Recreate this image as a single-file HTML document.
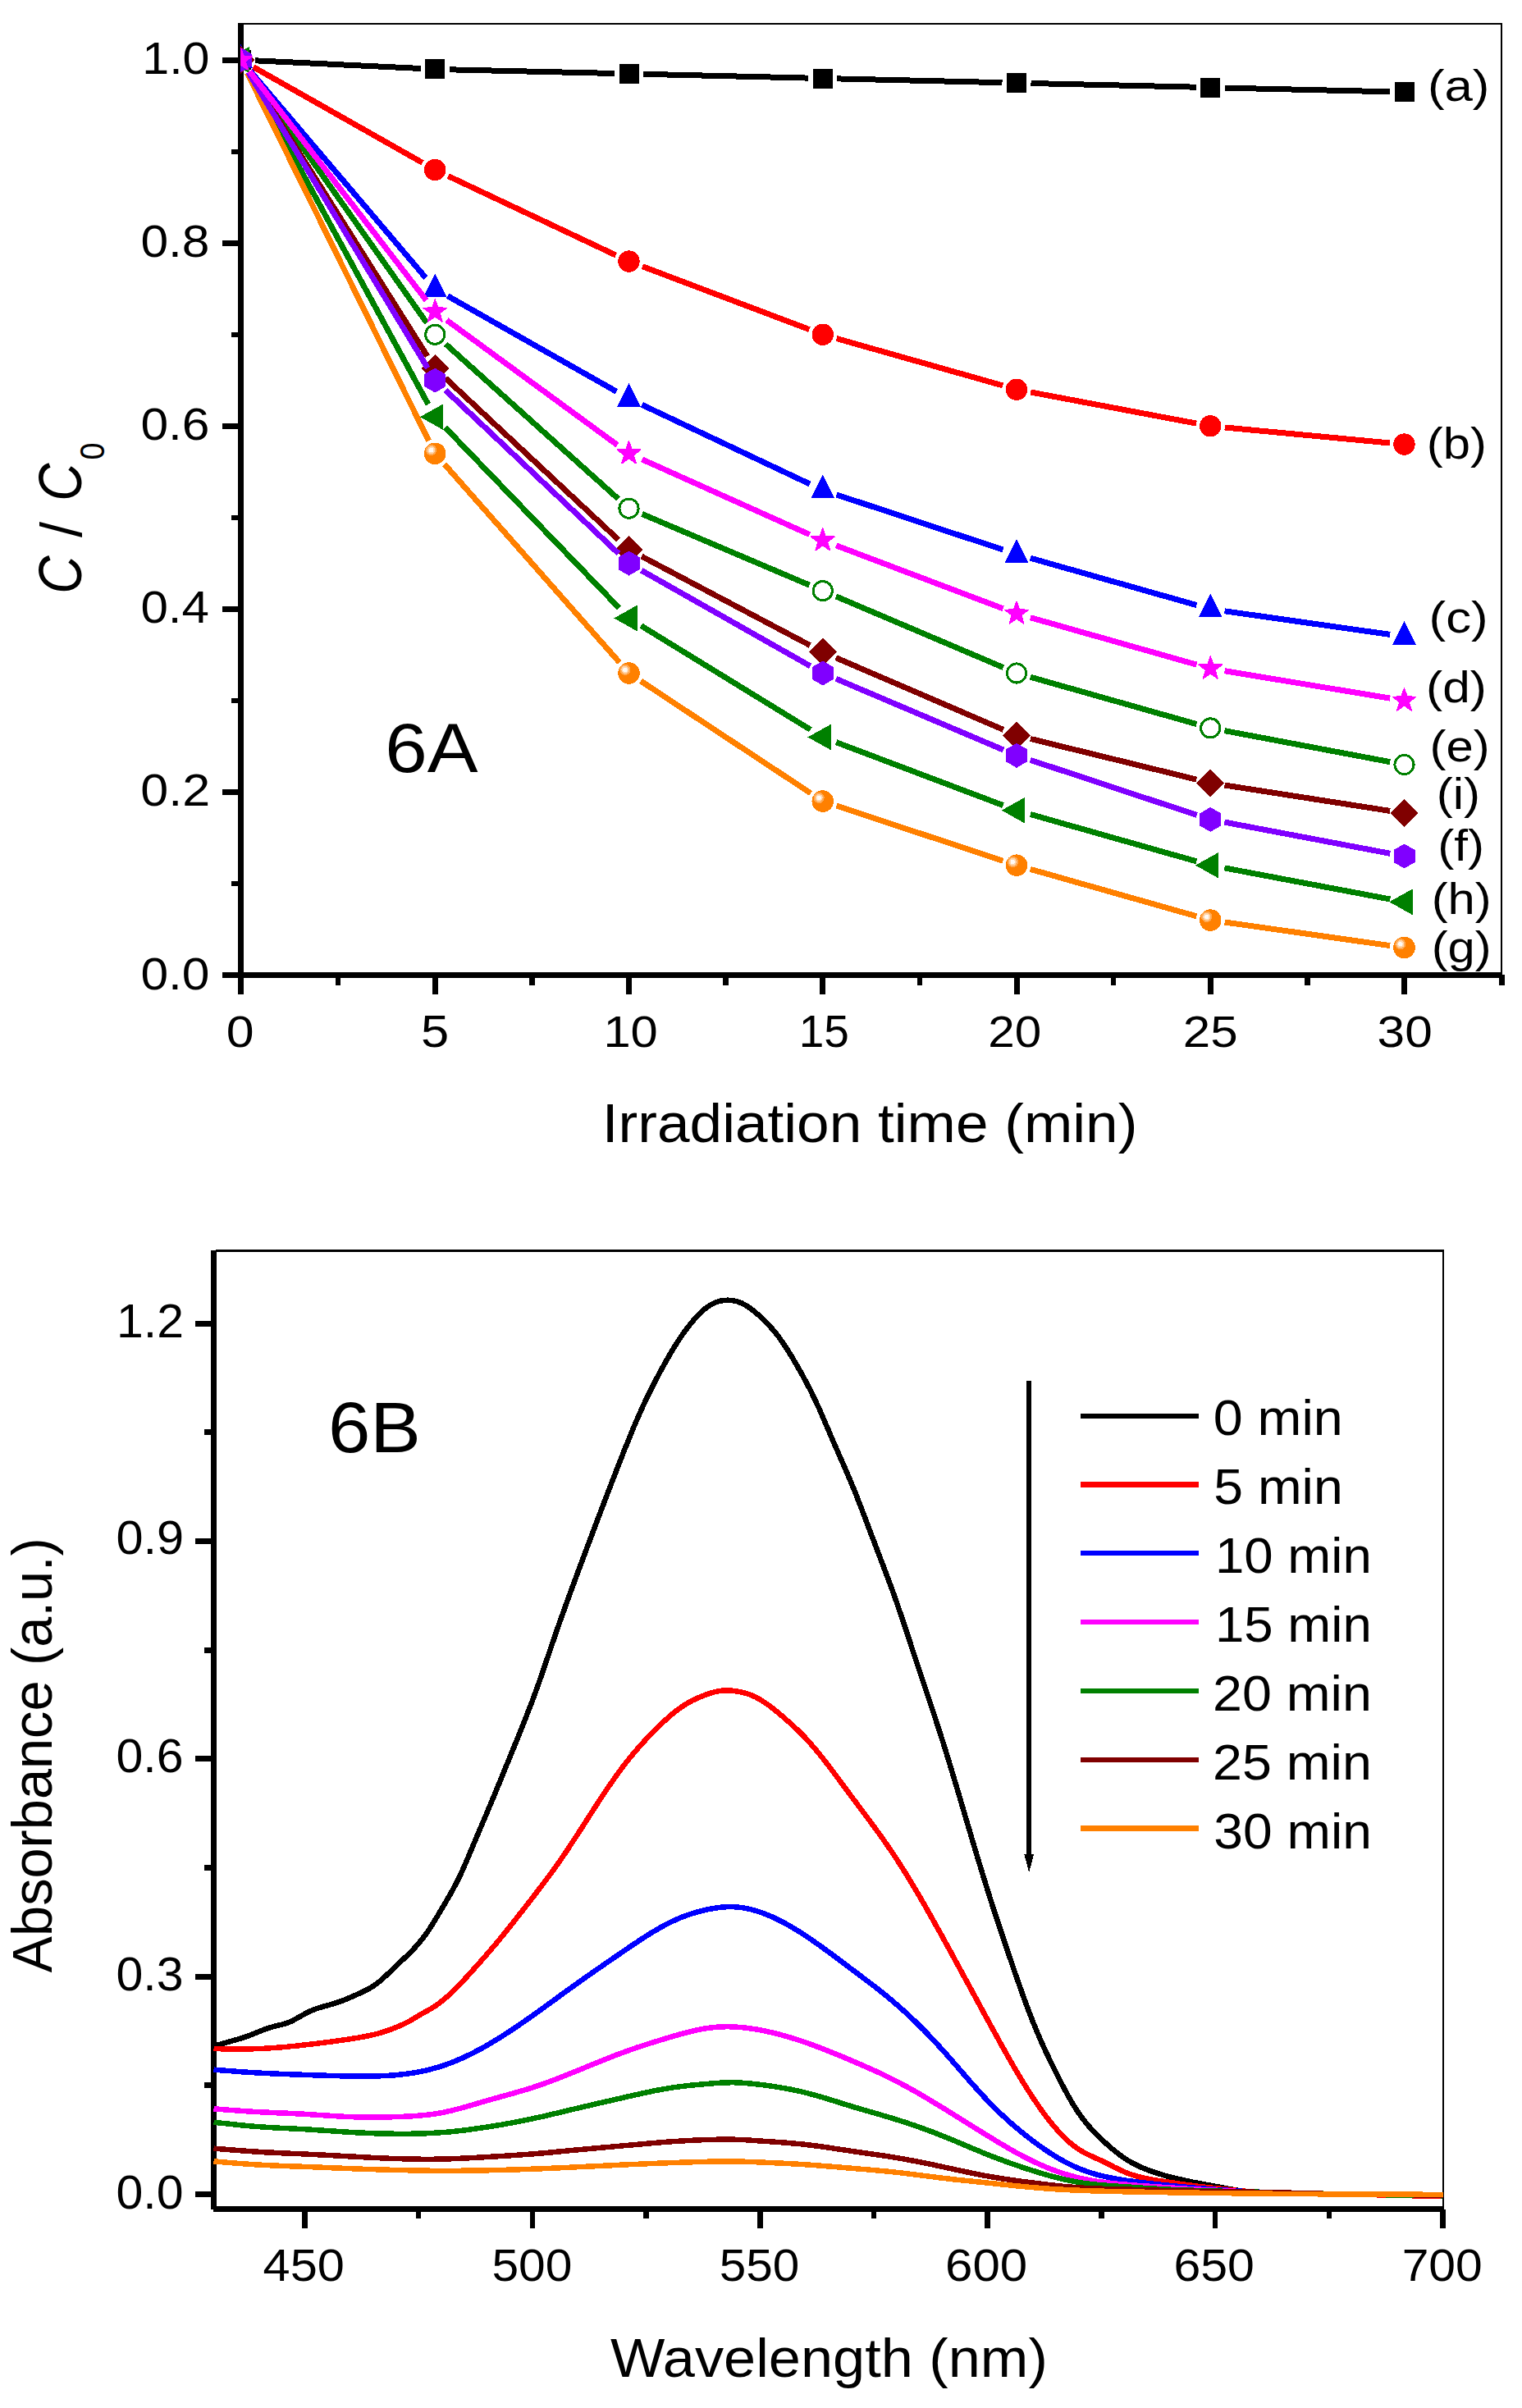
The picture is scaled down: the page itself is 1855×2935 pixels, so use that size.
<!DOCTYPE html>
<html><head><meta charset="utf-8"><title>Figure 6</title>
<style>html,body{margin:0;padding:0;background:#fff}svg{display:block}</style></head>
<body>
<svg width="1855" height="2935" viewBox="0 0 1855 2935" shape-rendering="crispEdges">
<rect width="1855" height="2935" fill="#fff"/>
<defs>
<clipPath id="clipA"><rect x="293" y="29.0" width="1537.0" height="1159.5"/></clipPath>
</defs>
<g stroke="#000" fill="none">
<path d="M293.5 29.0 H1830.0 V1188.5" stroke-width="2"/>
<path d="M293.5 28.0 V1192.0" stroke-width="7"/>
<path d="M290.0 1188.5 H1831" stroke-width="7"/>
<path d="M293.5 1188.5 H271 M293.5 965.4 H271 M293.5 742.4 H271 M293.5 519.3 H271 M293.5 296.3 H271 M293.5 73.2 H271 " stroke-width="7"/>
<path d="M293.5 1077.3 H282 M293.5 854.2 H282 M293.5 631.1 H282 M293.5 408.1 H282 M293.5 185.0 H282 " stroke-width="6"/>
<path d="M530.2 1188.5 V1212 M766.5 1188.5 V1212 M1002.8 1188.5 V1212 M1239.0 1188.5 V1212 M1475.2 1188.5 V1212 M1711.5 1188.5 V1212 M293.5 1188.5 V1212 " stroke-width="7"/>
<path d="M412.1 1188.5 V1200.5 M648.4 1188.5 V1200.5 M884.6 1188.5 V1200.5 M1120.9 1188.5 V1200.5 M1357.1 1188.5 V1200.5 M1593.4 1188.5 V1200.5 " stroke-width="6.5"/>
<path d="M1830.5 1188.0 V1201" stroke-width="7"/>
</g>
<g clip-path="url(#clipA)">
<path d="M311.0 73.8 L512.8 83.5 M547.7 84.8 L749.0 89.5 M784.0 90.3 L985.3 95.1 M1020.2 95.9 L1221.5 100.7 M1256.5 101.5 L1457.8 106.2 M1492.7 107.1 L1694.0 111.8 " stroke="#000000" stroke-width="7" fill="none"/>
<rect x="281.5" y="61.0" width="24" height="24" fill="#000000"/>
<rect x="518.2" y="72.4" width="24" height="24" fill="#000000"/>
<rect x="754.5" y="77.9" width="24" height="24" fill="#000000"/>
<rect x="990.8" y="83.5" width="24" height="24" fill="#000000"/>
<rect x="1227.0" y="89.1" width="24" height="24" fill="#000000"/>
<rect x="1463.2" y="94.7" width="24" height="24" fill="#000000"/>
<rect x="1699.5" y="100.2" width="24" height="24" fill="#000000"/>
<path d="M308.7 81.6 L515.0 198.4 M546.1 214.5 L750.7 311.1 M782.9 324.7 L986.4 401.6 M1019.6 412.6 L1222.2 469.9 M1256.2 478.0 L1458.1 516.1 M1492.7 521.0 L1694.1 540.0 " stroke="#ff0000" stroke-width="7" fill="none"/>
<circle cx="293.5" cy="73.0" r="13.2" fill="#ff0000"/>
<circle cx="530.2" cy="207.0" r="13.2" fill="#ff0000"/>
<circle cx="766.5" cy="318.6" r="13.2" fill="#ff0000"/>
<circle cx="1002.8" cy="407.8" r="13.2" fill="#ff0000"/>
<circle cx="1239.0" cy="474.7" r="13.2" fill="#ff0000"/>
<circle cx="1475.2" cy="519.3" r="13.2" fill="#ff0000"/>
<circle cx="1711.5" cy="541.6" r="13.2" fill="#ff0000"/>
<path d="M304.8 86.3 L518.9 338.7 M545.5 360.7 L751.3 477.2 M782.3 493.3 L986.9 589.9 M1019.4 602.9 L1222.4 670.0 M1255.8 680.2 L1458.4 737.6 M1492.6 744.8 L1694.2 773.4 " stroke="#0000ff" stroke-width="7" fill="none"/>
<polygon points="293.5,54.2 307.8,83.0 279.2,83.0" fill="#0000ff"/>
<polygon points="530.2,333.2 544.5,362.0 516.0,362.0" fill="#0000ff"/>
<polygon points="766.5,467.1 780.8,495.9 752.2,495.9" fill="#0000ff"/>
<polygon points="1002.8,578.6 1017.0,607.4 988.5,607.4" fill="#0000ff"/>
<polygon points="1239.0,656.7 1253.3,685.5 1224.7,685.5" fill="#0000ff"/>
<polygon points="1475.2,723.6 1489.5,752.4 1461.0,752.4" fill="#0000ff"/>
<polygon points="1711.5,757.0 1725.8,785.8 1697.2,785.8" fill="#0000ff"/>
<path d="M303.6 87.3 L520.1 393.5 M543.3 419.5 L753.5 608.0 M782.6 626.5 L986.6 713.2 M1018.9 726.9 L1222.9 813.6 M1255.8 825.2 L1458.4 882.6 M1492.4 890.6 L1694.3 928.7 " stroke="#008000" stroke-width="7" fill="none"/>
<circle cx="293.5" cy="73.0" r="11.6" fill="#fff" stroke="#008000" stroke-width="3"/>
<circle cx="530.2" cy="407.8" r="11.6" fill="#fff" stroke="#008000" stroke-width="3"/>
<circle cx="766.5" cy="619.7" r="11.6" fill="#fff" stroke="#008000" stroke-width="3"/>
<circle cx="1002.8" cy="720.1" r="11.6" fill="#fff" stroke="#008000" stroke-width="3"/>
<circle cx="1239.0" cy="820.5" r="11.6" fill="#fff" stroke="#008000" stroke-width="3"/>
<circle cx="1475.2" cy="887.4" r="11.6" fill="#fff" stroke="#008000" stroke-width="3"/>
<circle cx="1711.5" cy="932.0" r="11.6" fill="#fff" stroke="#008000" stroke-width="3"/>
<path d="M302.8 87.8 L520.9 434.2 M543.0 461.0 L753.7 657.9 M782.0 678.1 L987.3 786.6 M1018.8 801.7 L1222.9 889.4 M1256.0 900.5 L1458.3 950.1 M1492.5 957.0 L1694.2 988.4 " stroke="#800000" stroke-width="7" fill="none"/>
<polygon points="293.5,56.0 310.5,73.0 293.5,90.0 276.5,73.0" fill="#800000"/>
<polygon points="530.2,432.1 547.2,449.1 530.2,466.1 513.2,449.1" fill="#800000"/>
<polygon points="766.5,652.9 783.5,669.9 766.5,686.9 749.5,669.9" fill="#800000"/>
<polygon points="1002.8,777.8 1019.8,794.8 1002.8,811.8 985.8,794.8" fill="#800000"/>
<polygon points="1239.0,879.3 1256.0,896.3 1239.0,913.3 1222.0,896.3" fill="#800000"/>
<polygon points="1475.2,937.3 1492.2,954.3 1475.2,971.3 1458.2,954.3" fill="#800000"/>
<polygon points="1711.5,974.1 1728.5,991.1 1711.5,1008.1 1694.5,991.1" fill="#800000"/>
<path d="M301.9 88.4 L521.9 492.8 M542.4 520.8 L754.4 740.9 M781.4 762.7 L987.8 889.4 M1019.1 904.7 L1222.6 981.6 M1255.8 992.5 L1458.4 1049.9 M1492.4 1057.9 L1694.3 1096.0 " stroke="#008000" stroke-width="7" fill="none"/>
<polygon points="275.2,73.0 303.5,57.2 303.5,88.8" fill="#008000"/>
<polygon points="511.9,508.2 540.2,492.4 540.2,524.0" fill="#008000"/>
<polygon points="748.2,753.5 776.5,737.7 776.5,769.3" fill="#008000"/>
<polygon points="984.5,898.5 1012.8,882.7 1012.8,914.3" fill="#008000"/>
<polygon points="1220.7,987.7 1249.0,971.9 1249.0,1003.5" fill="#008000"/>
<polygon points="1457.0,1054.7 1485.2,1038.9 1485.2,1070.5" fill="#008000"/>
<polygon points="1693.2,1099.3 1721.5,1083.5 1721.5,1115.1" fill="#008000"/>
<path d="M301.2 88.7 L522.5 537.1 M541.8 565.9 L754.9 807.3 M781.1 830.1 L988.2 966.9 M1019.4 982.1 L1222.4 1049.2 M1255.8 1059.4 L1458.4 1116.8 M1492.6 1124.0 L1694.2 1152.6 " stroke="#ff8000" stroke-width="7" fill="none"/>
<circle cx="293.5" cy="73.0" r="13.3" fill="#ff8000"/><circle cx="288.9" cy="68.8" r="6.6" fill="#ffaa55"/><circle cx="288.9" cy="68.8" r="4.6" fill="#ffd6ad"/><circle cx="288.9" cy="68.8" r="2.7" fill="#fffaf5"/>
<circle cx="530.2" cy="552.8" r="13.3" fill="#ff8000"/><circle cx="525.6" cy="548.6" r="6.6" fill="#ffaa55"/><circle cx="525.6" cy="548.6" r="4.6" fill="#ffd6ad"/><circle cx="525.6" cy="548.6" r="2.7" fill="#fffaf5"/>
<circle cx="766.5" cy="820.5" r="13.3" fill="#ff8000"/><circle cx="761.9" cy="816.3" r="6.6" fill="#ffaa55"/><circle cx="761.9" cy="816.3" r="4.6" fill="#ffd6ad"/><circle cx="761.9" cy="816.3" r="2.7" fill="#fffaf5"/>
<circle cx="1002.8" cy="976.6" r="13.3" fill="#ff8000"/><circle cx="998.1" cy="972.4" r="6.6" fill="#ffaa55"/><circle cx="998.1" cy="972.4" r="4.6" fill="#ffd6ad"/><circle cx="998.1" cy="972.4" r="2.7" fill="#fffaf5"/>
<circle cx="1239.0" cy="1054.7" r="13.3" fill="#ff8000"/><circle cx="1234.4" cy="1050.5" r="6.6" fill="#ffaa55"/><circle cx="1234.4" cy="1050.5" r="4.6" fill="#ffd6ad"/><circle cx="1234.4" cy="1050.5" r="2.7" fill="#fffaf5"/>
<circle cx="1475.2" cy="1121.6" r="13.3" fill="#ff8000"/><circle cx="1470.7" cy="1117.4" r="6.6" fill="#ffaa55"/><circle cx="1470.7" cy="1117.4" r="4.6" fill="#ffd6ad"/><circle cx="1470.7" cy="1117.4" r="2.7" fill="#fffaf5"/>
<circle cx="1711.5" cy="1155.0" r="13.3" fill="#ff8000"/><circle cx="1706.9" cy="1150.8" r="6.6" fill="#ffaa55"/><circle cx="1706.9" cy="1150.8" r="4.6" fill="#ffd6ad"/><circle cx="1706.9" cy="1150.8" r="2.7" fill="#fffaf5"/>
<path d="M302.6 88.0 L521.2 448.6 M543.0 475.6 L753.8 674.6 M781.7 695.2 L987.5 811.8 M1018.9 827.3 L1222.9 914.0 M1255.6 926.3 L1458.6 993.4 M1492.4 1002.1 L1694.3 1040.3 " stroke="#8000ff" stroke-width="7" fill="none"/>
<polygon points="293.5,58.0 306.5,65.5 306.5,80.5 293.5,88.0 280.5,80.5 280.5,65.5" fill="#8000ff"/>
<polygon points="530.2,448.6 543.2,456.1 543.2,471.1 530.2,478.6 517.3,471.1 517.3,456.1" fill="#8000ff"/>
<polygon points="766.5,671.6 779.5,679.1 779.5,694.1 766.5,701.6 753.5,694.1 753.5,679.1" fill="#8000ff"/>
<polygon points="1002.8,805.5 1015.7,813.0 1015.7,828.0 1002.8,835.5 989.8,828.0 989.8,813.0" fill="#8000ff"/>
<polygon points="1239.0,905.8 1252.0,913.3 1252.0,928.3 1239.0,935.8 1226.0,928.3 1226.0,913.3" fill="#8000ff"/>
<polygon points="1475.2,983.9 1488.2,991.4 1488.2,1006.4 1475.2,1013.9 1462.3,1006.4 1462.3,991.4" fill="#8000ff"/>
<polygon points="1711.5,1028.5 1724.5,1036.0 1724.5,1051.0 1711.5,1058.5 1698.5,1051.0 1698.5,1036.0" fill="#8000ff"/>
<path d="M304.2 86.9 L519.6 366.1 M544.4 390.2 L752.4 542.4 M782.5 559.9 L986.8 651.6 M1019.1 664.9 L1222.6 741.8 M1255.8 752.7 L1458.4 810.1 M1492.5 817.7 L1694.2 851.1 " stroke="#ff00ff" stroke-width="7" fill="none"/>
<polygon points="293.5,57.7 297.1,68.1 308.1,68.3 299.3,74.9 302.5,85.4 293.5,79.1 284.5,85.4 287.7,74.9 278.9,68.3 289.9,68.1" fill="#ff00ff" stroke="#ff00ff" stroke-width="1.2" stroke-miterlimit="2"/>
<polygon points="530.2,364.6 533.8,375.0 544.8,375.2 536.1,381.8 539.2,392.3 530.2,386.0 521.3,392.3 524.4,381.8 515.7,375.2 526.7,375.0" fill="#ff00ff" stroke="#ff00ff" stroke-width="1.2" stroke-miterlimit="2"/>
<polygon points="766.5,537.5 770.1,547.8 781.1,548.1 772.3,554.7 775.5,565.2 766.5,558.9 757.5,565.2 760.7,554.7 751.9,548.1 762.9,547.8" fill="#ff00ff" stroke="#ff00ff" stroke-width="1.2" stroke-miterlimit="2"/>
<polygon points="1002.8,643.4 1006.3,653.8 1017.3,654.0 1008.6,660.6 1011.7,671.1 1002.8,664.8 993.8,671.1 996.9,660.6 988.2,654.0 999.2,653.8" fill="#ff00ff" stroke="#ff00ff" stroke-width="1.2" stroke-miterlimit="2"/>
<polygon points="1239.0,732.7 1242.6,743.0 1253.6,743.2 1244.8,749.8 1248.0,760.3 1239.0,754.1 1230.0,760.3 1233.2,749.8 1224.4,743.2 1235.4,743.0" fill="#ff00ff" stroke="#ff00ff" stroke-width="1.2" stroke-miterlimit="2"/>
<polygon points="1475.2,799.6 1478.8,809.9 1489.8,810.1 1481.1,816.8 1484.2,827.3 1475.2,821.0 1466.3,827.3 1469.4,816.8 1460.7,810.1 1471.7,809.9" fill="#ff00ff" stroke="#ff00ff" stroke-width="1.2" stroke-miterlimit="2"/>
<polygon points="1711.5,838.6 1715.1,849.0 1726.1,849.2 1717.3,855.8 1720.5,866.3 1711.5,860.0 1702.5,866.3 1705.7,855.8 1696.9,849.2 1707.9,849.0" fill="#ff00ff" stroke="#ff00ff" stroke-width="1.2" stroke-miterlimit="2"/>
</g>
<defs><clipPath id="clipB"><rect x="260" y="1524.5" width="1499" height="1168.0"/></clipPath></defs>
<g stroke="#000" fill="none">
<path d="M262.5 1524.5 H1760.0" stroke-width="3"/>
<path d="M1759.0 1524.5 V2692.5" stroke-width="2"/>
<path d="M260.5 1524.0 V2693.0" stroke-width="7"/>
<path d="M260.0 2692.5 H1760.0" stroke-width="7"/>
<path d="M260.5 2674.5 H238.3 M260.5 2409.1 H238.3 M260.5 2143.7 H238.3 M260.5 1878.4 H238.3 M260.5 1613.0 H238.3 M260.5 2541.8 H249.3 M260.5 2276.4 H249.3 M260.5 2011.0 H249.3 M260.5 1745.7 H249.3 " stroke-width="7"/>
<path d="M371.5 2692.5 V2716 M648.9 2692.5 V2716 M926.3 2692.5 V2716 M1203.7 2692.5 V2716 M1481.1 2692.5 V2716 M1758.5 2692.5 V2716 " stroke-width="6.6"/>
<path d="M510.2 2692.5 V2704 M787.6 2692.5 V2704 M1065.0 2692.5 V2704 M1342.4 2692.5 V2704 M1619.8 2692.5 V2704 " stroke-width="6.5"/>
<path d="M1254.2 1683 V2262" stroke-width="5.5"/>
<path d="M1248.2 2259.5 H1260.2 L1254.2 2282.5 Z" fill="#000" stroke="none"/>
</g>
<g clip-path="url(#clipB)" fill="none" stroke-width="6.5" stroke-linejoin="round">
<path d="M260.5 2494.0 L266.0 2492.4 L271.6 2490.8 L277.1 2489.2 L282.7 2487.6 L288.2 2486.0 L293.8 2484.4 L299.3 2482.6 L304.9 2480.6 L310.4 2478.3 L316.0 2476.1 L321.5 2473.9 L327.1 2471.9 L332.6 2470.3 L338.2 2468.9 L343.7 2467.6 L349.3 2465.9 L354.8 2463.8 L360.4 2460.9 L365.9 2457.7 L371.5 2454.6 L377.0 2451.8 L382.6 2449.4 L388.1 2447.4 L393.7 2445.8 L399.2 2444.3 L404.7 2442.8 L410.3 2441.0 L415.8 2439.1 L421.4 2436.9 L426.9 2434.6 L432.5 2432.1 L438.0 2429.7 L443.6 2427.1 L449.1 2424.2 L454.7 2420.9 L460.2 2417.0 L465.8 2412.4 L471.3 2407.2 L476.9 2401.9 L482.4 2396.5 L488.0 2391.3 L493.5 2386.1 L499.1 2380.7 L504.6 2375.0 L510.2 2368.8 L515.7 2362.0 L521.3 2354.3 L526.8 2345.8 L532.4 2336.7 L537.9 2327.4 L543.4 2318.1 L549.0 2308.5 L554.5 2298.4 L560.1 2287.4 L565.6 2275.2 L571.2 2262.3 L576.7 2249.1 L582.3 2235.9 L587.8 2222.8 L593.4 2209.7 L598.9 2196.5 L604.5 2183.2 L610.0 2169.6 L615.6 2156.0 L621.1 2142.4 L626.7 2128.8 L632.2 2115.1 L637.8 2101.3 L643.3 2087.2 L648.9 2072.8 L654.4 2057.7 L660.0 2042.0 L665.5 2025.7 L671.1 2009.3 L676.6 1993.1 L682.1 1977.3 L687.7 1961.8 L693.2 1946.4 L698.8 1931.3 L704.3 1916.3 L709.9 1901.4 L715.4 1886.5 L721.0 1871.7 L726.5 1857.0 L732.1 1842.3 L737.6 1827.7 L743.2 1813.3 L748.7 1798.9 L754.3 1784.6 L759.8 1770.5 L765.4 1756.6 L770.9 1743.0 L776.5 1729.9 L782.0 1717.4 L787.6 1705.4 L793.1 1694.1 L798.7 1683.2 L804.2 1672.7 L809.8 1662.6 L815.3 1652.8 L820.8 1643.5 L826.4 1634.7 L831.9 1626.4 L837.5 1618.8 L843.0 1611.8 L848.6 1605.5 L854.1 1599.8 L859.7 1594.9 L865.2 1591.0 L870.8 1588.0 L876.3 1586.0 L881.9 1585.0 L887.4 1584.7 L893.0 1585.1 L898.5 1586.3 L904.1 1588.4 L909.6 1591.4 L915.2 1595.1 L920.7 1599.5 L926.3 1604.4 L931.8 1609.7 L937.4 1615.5 L942.9 1621.7 L948.5 1628.7 L954.0 1636.4 L959.5 1644.8 L965.1 1653.7 L970.6 1663.2 L976.2 1672.9 L981.7 1683.1 L987.3 1693.7 L992.8 1705.0 L998.4 1717.0 L1003.9 1729.7 L1009.5 1742.7 L1015.0 1755.7 L1020.6 1768.4 L1026.1 1781.0 L1031.7 1793.7 L1037.2 1806.7 L1042.8 1820.3 L1048.3 1834.5 L1053.9 1849.0 L1059.4 1863.7 L1065.0 1878.4 L1070.5 1892.9 L1076.1 1907.5 L1081.6 1922.2 L1087.2 1937.2 L1092.7 1952.7 L1098.2 1968.7 L1103.8 1985.2 L1109.3 2002.1 L1114.9 2019.0 L1120.4 2035.8 L1126.0 2052.5 L1131.5 2069.1 L1137.1 2085.7 L1142.6 2102.6 L1148.2 2119.9 L1153.7 2137.6 L1159.3 2155.8 L1164.8 2174.3 L1170.4 2193.0 L1175.9 2211.9 L1181.5 2230.6 L1187.0 2249.3 L1192.6 2267.8 L1198.1 2286.0 L1203.7 2303.9 L1209.2 2321.3 L1214.8 2338.3 L1220.3 2355.1 L1225.9 2371.6 L1231.4 2387.9 L1236.9 2404.1 L1242.5 2420.0 L1248.0 2435.6 L1253.6 2450.6 L1259.1 2464.8 L1264.7 2478.3 L1270.2 2491.0 L1275.8 2503.1 L1281.3 2514.7 L1286.9 2525.9 L1292.4 2536.8 L1298.0 2547.4 L1303.5 2557.5 L1309.1 2566.9 L1314.6 2575.4 L1320.2 2583.1 L1325.7 2590.0 L1331.3 2596.2 L1336.8 2601.9 L1342.4 2607.3 L1347.9 2612.4 L1353.5 2617.4 L1359.0 2622.0 L1364.6 2626.3 L1370.1 2630.3 L1375.6 2633.8 L1381.2 2636.9 L1386.7 2639.7 L1392.3 2642.2 L1397.8 2644.4 L1403.4 2646.5 L1408.9 2648.4 L1414.5 2650.1 L1420.0 2651.8 L1425.6 2653.3 L1431.1 2654.7 L1436.7 2656.0 L1442.2 2657.2 L1447.8 2658.4 L1453.3 2659.6 L1458.9 2660.7 L1464.4 2661.7 L1470.0 2662.8 L1475.5 2663.8 L1481.1 2664.8 L1486.6 2665.8 L1492.2 2666.9 L1497.7 2667.9 L1503.3 2668.9 L1508.8 2669.8 L1514.3 2670.5 L1519.9 2671.0 L1525.4 2671.3 L1531.0 2671.6 L1536.5 2671.8 L1542.1 2672.0 L1547.6 2672.2 L1553.2 2672.4 L1558.7 2672.6 L1564.3 2672.7 L1569.8 2672.9 L1575.4 2673.0 L1580.9 2673.2 L1586.5 2673.3 L1592.0 2673.4 L1597.6 2673.5 L1603.1 2673.7 L1608.7 2673.8 L1614.2 2673.9 L1619.8 2674.0 L1625.3 2674.1 L1630.9 2674.2 L1636.4 2674.3 L1642.0 2674.4 L1647.5 2674.5 L1653.0 2674.6 L1658.6 2674.7 L1664.1 2674.8 L1669.7 2674.9 L1675.2 2675.0 L1680.8 2675.1 L1686.3 2675.2 L1691.9 2675.3 L1697.4 2675.4 L1703.0 2675.5 L1708.5 2675.5 L1714.1 2675.6 L1719.6 2675.7 L1725.2 2675.8 L1730.7 2675.9 L1736.3 2676.0 L1741.8 2676.0 L1747.4 2676.1 L1752.9 2676.2 L1758.5 2676.3" stroke="#000000"/>
<path d="M260.5 2497.0 L266.0 2497.2 L271.6 2497.3 L277.1 2497.3 L282.7 2497.4 L288.2 2497.5 L293.8 2497.5 L299.3 2497.4 L304.9 2497.4 L310.4 2497.2 L316.0 2497.0 L321.5 2496.8 L327.1 2496.5 L332.6 2496.1 L338.2 2495.7 L343.7 2495.3 L349.3 2494.8 L354.8 2494.2 L360.4 2493.7 L365.9 2493.1 L371.5 2492.4 L377.0 2491.8 L382.6 2491.2 L388.1 2490.5 L393.7 2489.8 L399.2 2489.1 L404.7 2488.4 L410.3 2487.6 L415.8 2486.8 L421.4 2486.0 L426.9 2485.2 L432.5 2484.3 L438.0 2483.4 L443.6 2482.4 L449.1 2481.3 L454.7 2480.1 L460.2 2478.7 L465.8 2477.1 L471.3 2475.3 L476.9 2473.3 L482.4 2471.2 L488.0 2468.8 L493.5 2466.3 L499.1 2463.4 L504.6 2460.2 L510.2 2456.8 L515.7 2453.6 L521.3 2450.5 L526.8 2447.4 L532.4 2443.7 L537.9 2439.5 L543.4 2435.0 L549.0 2430.0 L554.5 2424.6 L560.1 2419.0 L565.6 2413.1 L571.2 2407.1 L576.7 2400.9 L582.3 2394.7 L587.8 2388.4 L593.4 2382.1 L598.9 2375.6 L604.5 2369.1 L610.0 2362.4 L615.6 2355.6 L621.1 2348.7 L626.7 2341.7 L632.2 2334.6 L637.8 2327.5 L643.3 2320.4 L648.9 2313.2 L654.4 2306.0 L660.0 2298.7 L665.5 2291.4 L671.1 2283.9 L676.6 2276.3 L682.1 2268.5 L687.7 2260.4 L693.2 2252.1 L698.8 2243.7 L704.3 2235.2 L709.9 2226.6 L715.4 2217.9 L721.0 2209.3 L726.5 2200.7 L732.1 2192.2 L737.6 2183.8 L743.2 2175.7 L748.7 2167.7 L754.3 2160.0 L759.8 2152.5 L765.4 2145.4 L770.9 2138.6 L776.5 2132.1 L782.0 2125.8 L787.6 2119.7 L793.1 2113.9 L798.7 2108.2 L804.2 2102.8 L809.8 2097.6 L815.3 2092.6 L820.8 2087.9 L826.4 2083.6 L831.9 2079.7 L837.5 2076.2 L843.0 2073.1 L848.6 2070.4 L854.1 2068.0 L859.7 2065.9 L865.2 2063.9 L870.8 2062.3 L876.3 2061.1 L881.9 2060.5 L887.4 2060.4 L893.0 2060.8 L898.5 2061.5 L904.1 2062.5 L909.6 2064.0 L915.2 2065.9 L920.7 2068.4 L926.3 2071.4 L931.8 2074.9 L937.4 2078.8 L942.9 2083.1 L948.5 2087.6 L954.0 2092.3 L959.5 2097.1 L965.1 2102.0 L970.6 2107.2 L976.2 2112.6 L981.7 2118.3 L987.3 2124.5 L992.8 2130.9 L998.4 2137.6 L1003.9 2144.5 L1009.5 2151.7 L1015.0 2159.0 L1020.6 2166.4 L1026.1 2173.9 L1031.7 2181.4 L1037.2 2188.9 L1042.8 2196.3 L1048.3 2203.7 L1053.9 2211.1 L1059.4 2218.6 L1065.0 2226.1 L1070.5 2233.7 L1076.1 2241.5 L1081.6 2249.4 L1087.2 2257.5 L1092.7 2265.8 L1098.2 2274.4 L1103.8 2283.2 L1109.3 2292.3 L1114.9 2301.5 L1120.4 2310.9 L1126.0 2320.5 L1131.5 2330.2 L1137.1 2340.1 L1142.6 2350.0 L1148.2 2360.0 L1153.7 2370.1 L1159.3 2380.2 L1164.8 2390.4 L1170.4 2400.6 L1175.9 2410.8 L1181.5 2421.0 L1187.0 2431.2 L1192.6 2441.4 L1198.1 2451.7 L1203.7 2461.8 L1209.2 2472.0 L1214.8 2482.1 L1220.3 2492.1 L1225.9 2502.0 L1231.4 2511.7 L1236.9 2521.3 L1242.5 2530.6 L1248.0 2539.7 L1253.6 2548.6 L1259.1 2557.1 L1264.7 2565.3 L1270.2 2573.2 L1275.8 2580.7 L1281.3 2587.7 L1286.9 2594.3 L1292.4 2600.5 L1298.0 2606.1 L1303.5 2611.2 L1309.1 2615.7 L1314.6 2619.7 L1320.2 2623.0 L1325.7 2625.9 L1331.3 2628.5 L1336.8 2631.0 L1342.4 2633.5 L1347.9 2636.3 L1353.5 2639.1 L1359.0 2641.9 L1364.6 2644.6 L1370.1 2647.1 L1375.6 2649.3 L1381.2 2651.2 L1386.7 2652.8 L1392.3 2654.2 L1397.8 2655.4 L1403.4 2656.5 L1408.9 2657.4 L1414.5 2658.3 L1420.0 2659.1 L1425.6 2659.8 L1431.1 2660.7 L1436.7 2661.6 L1442.2 2662.4 L1447.8 2663.1 L1453.3 2663.9 L1458.9 2664.6 L1464.4 2665.2 L1470.0 2665.9 L1475.5 2666.5 L1481.1 2667.1 L1486.6 2667.6 L1492.2 2668.2 L1497.7 2668.8 L1503.3 2669.4 L1508.8 2669.9 L1514.3 2670.4 L1519.9 2670.9 L1525.4 2671.3 L1531.0 2671.6 L1536.5 2671.8 L1542.1 2672.1 L1547.6 2672.3 L1553.2 2672.4 L1558.7 2672.6 L1564.3 2672.8 L1569.8 2672.9 L1575.4 2673.0 L1580.9 2673.2 L1586.5 2673.3 L1592.0 2673.4 L1597.6 2673.5 L1603.1 2673.6 L1608.7 2673.7 L1614.2 2673.8 L1619.8 2673.9 L1625.3 2674.0 L1630.9 2674.1 L1636.4 2674.3 L1642.0 2674.4 L1647.5 2674.5 L1653.0 2674.6 L1658.6 2674.8 L1664.1 2674.9 L1669.7 2675.0 L1675.2 2675.2 L1680.8 2675.3 L1686.3 2675.4 L1691.9 2675.6 L1697.4 2675.7 L1703.0 2675.8 L1708.5 2676.0 L1714.1 2676.1 L1719.6 2676.2 L1725.2 2676.4 L1730.7 2676.5 L1736.3 2676.6 L1741.8 2676.8 L1747.4 2676.9 L1752.9 2677.0 L1758.5 2677.2" stroke="#ff0000"/>
<path d="M260.5 2522.6 L266.0 2523.1 L271.6 2523.5 L277.1 2523.9 L282.7 2524.3 L288.2 2524.8 L293.8 2525.2 L299.3 2525.6 L304.9 2525.9 L310.4 2526.3 L316.0 2526.6 L321.5 2526.9 L327.1 2527.2 L332.6 2527.4 L338.2 2527.7 L343.7 2527.9 L349.3 2528.1 L354.8 2528.3 L360.4 2528.5 L365.9 2528.7 L371.5 2528.9 L377.0 2529.1 L382.6 2529.3 L388.1 2529.5 L393.7 2529.6 L399.2 2529.8 L404.7 2530.0 L410.3 2530.1 L415.8 2530.3 L421.4 2530.4 L426.9 2530.5 L432.5 2530.6 L438.0 2530.6 L443.6 2530.6 L449.1 2530.6 L454.7 2530.5 L460.2 2530.4 L465.8 2530.2 L471.3 2529.9 L476.9 2529.6 L482.4 2529.2 L488.0 2528.6 L493.5 2528.0 L499.1 2527.2 L504.6 2526.4 L510.2 2525.4 L515.7 2524.3 L521.3 2523.0 L526.8 2521.6 L532.4 2520.1 L537.9 2518.4 L543.4 2516.5 L549.0 2514.5 L554.5 2512.3 L560.1 2509.9 L565.6 2507.5 L571.2 2504.8 L576.7 2502.1 L582.3 2499.2 L587.8 2496.2 L593.4 2493.1 L598.9 2489.8 L604.5 2486.5 L610.0 2483.1 L615.6 2479.5 L621.1 2475.9 L626.7 2472.2 L632.2 2468.5 L637.8 2464.7 L643.3 2460.8 L648.9 2456.9 L654.4 2452.9 L660.0 2449.0 L665.5 2444.9 L671.1 2440.9 L676.6 2436.9 L682.1 2432.8 L687.7 2428.8 L693.2 2424.8 L698.8 2420.8 L704.3 2416.8 L709.9 2412.9 L715.4 2409.0 L721.0 2405.1 L726.5 2401.2 L732.1 2397.4 L737.6 2393.5 L743.2 2389.7 L748.7 2385.9 L754.3 2382.1 L759.8 2378.3 L765.4 2374.5 L770.9 2370.8 L776.5 2367.1 L782.0 2363.4 L787.6 2359.8 L793.1 2356.3 L798.7 2353.0 L804.2 2349.8 L809.8 2346.7 L815.3 2343.8 L820.8 2341.2 L826.4 2338.7 L831.9 2336.4 L837.5 2334.4 L843.0 2332.5 L848.6 2330.8 L854.1 2329.3 L859.7 2327.9 L865.2 2326.8 L870.8 2325.8 L876.3 2325.0 L881.9 2324.4 L887.4 2324.1 L893.0 2324.1 L898.5 2324.5 L904.1 2325.1 L909.6 2326.1 L915.2 2327.3 L920.7 2328.8 L926.3 2330.6 L931.8 2332.6 L937.4 2334.8 L942.9 2337.2 L948.5 2339.9 L954.0 2342.7 L959.5 2345.7 L965.1 2348.9 L970.6 2352.2 L976.2 2355.7 L981.7 2359.3 L987.3 2363.0 L992.8 2366.9 L998.4 2370.8 L1003.9 2374.8 L1009.5 2378.8 L1015.0 2382.9 L1020.6 2387.1 L1026.1 2391.2 L1031.7 2395.4 L1037.2 2399.6 L1042.8 2403.7 L1048.3 2407.9 L1053.9 2412.1 L1059.4 2416.3 L1065.0 2420.5 L1070.5 2424.8 L1076.1 2429.2 L1081.6 2433.7 L1087.2 2438.4 L1092.7 2443.1 L1098.2 2448.0 L1103.8 2453.0 L1109.3 2458.1 L1114.9 2463.4 L1120.4 2468.9 L1126.0 2474.4 L1131.5 2480.1 L1137.1 2486.0 L1142.6 2491.9 L1148.2 2498.0 L1153.7 2504.2 L1159.3 2510.5 L1164.8 2516.9 L1170.4 2523.3 L1175.9 2529.6 L1181.5 2536.0 L1187.0 2542.3 L1192.6 2548.4 L1198.1 2554.5 L1203.7 2560.4 L1209.2 2566.1 L1214.8 2571.6 L1220.3 2576.9 L1225.9 2582.1 L1231.4 2587.1 L1236.9 2591.9 L1242.5 2596.5 L1248.0 2601.1 L1253.6 2605.4 L1259.1 2609.7 L1264.7 2613.8 L1270.2 2617.7 L1275.8 2621.5 L1281.3 2625.1 L1286.9 2628.6 L1292.4 2631.9 L1298.0 2635.0 L1303.5 2637.8 L1309.1 2640.5 L1314.6 2642.9 L1320.2 2645.1 L1325.7 2647.1 L1331.3 2648.9 L1336.8 2650.5 L1342.4 2651.9 L1347.9 2653.2 L1353.5 2654.4 L1359.0 2655.4 L1364.6 2656.4 L1370.1 2657.3 L1375.6 2658.1 L1381.2 2658.8 L1386.7 2659.6 L1392.3 2660.3 L1397.8 2660.9 L1403.4 2661.5 L1408.9 2662.1 L1414.5 2662.7 L1420.0 2663.3 L1425.6 2663.8 L1431.1 2664.4 L1436.7 2664.9 L1442.2 2665.4 L1447.8 2665.9 L1453.3 2666.4 L1458.9 2666.9 L1464.4 2667.4 L1470.0 2667.8 L1475.5 2668.3 L1481.1 2668.7 L1486.6 2669.0 L1492.2 2669.4 L1497.7 2669.8 L1503.3 2670.1 L1508.8 2670.5 L1514.3 2670.8 L1519.9 2671.1 L1525.4 2671.4 L1531.0 2671.6 L1536.5 2671.8 L1542.1 2672.0 L1547.6 2672.2 L1553.2 2672.4 L1558.7 2672.6 L1564.3 2672.7 L1569.8 2672.9 L1575.4 2673.0 L1580.9 2673.1 L1586.5 2673.3 L1592.0 2673.4 L1597.6 2673.5 L1603.1 2673.6 L1608.7 2673.8 L1614.2 2673.9 L1619.8 2674.0 L1625.3 2674.1 L1630.9 2674.2 L1636.4 2674.3 L1642.0 2674.4 L1647.5 2674.5 L1653.0 2674.6 L1658.6 2674.7 L1664.1 2674.8 L1669.7 2674.9 L1675.2 2675.0 L1680.8 2675.1 L1686.3 2675.2 L1691.9 2675.3 L1697.4 2675.4 L1703.0 2675.5 L1708.5 2675.6 L1714.1 2675.7 L1719.6 2675.7 L1725.2 2675.8 L1730.7 2675.9 L1736.3 2676.0 L1741.8 2676.1 L1747.4 2676.1 L1752.9 2676.2 L1758.5 2676.3" stroke="#0000ff"/>
<path d="M260.5 2570.3 L266.0 2570.7 L271.6 2571.2 L277.1 2571.6 L282.7 2572.0 L288.2 2572.4 L293.8 2572.8 L299.3 2573.2 L304.9 2573.5 L310.4 2573.9 L316.0 2574.2 L321.5 2574.5 L327.1 2574.7 L332.6 2575.0 L338.2 2575.3 L343.7 2575.5 L349.3 2575.7 L354.8 2576.0 L360.4 2576.3 L365.9 2576.5 L371.5 2576.8 L377.0 2577.2 L382.6 2577.5 L388.1 2577.9 L393.7 2578.2 L399.2 2578.6 L404.7 2579.0 L410.3 2579.3 L415.8 2579.6 L421.4 2579.9 L426.9 2580.1 L432.5 2580.3 L438.0 2580.4 L443.6 2580.5 L449.1 2580.6 L454.7 2580.6 L460.2 2580.5 L465.8 2580.5 L471.3 2580.4 L476.9 2580.3 L482.4 2580.1 L488.0 2579.9 L493.5 2579.7 L499.1 2579.5 L504.6 2579.1 L510.2 2578.7 L515.7 2578.2 L521.3 2577.7 L526.8 2577.0 L532.4 2576.1 L537.9 2575.2 L543.4 2574.0 L549.0 2572.8 L554.5 2571.4 L560.1 2570.0 L565.6 2568.5 L571.2 2566.9 L576.7 2565.3 L582.3 2563.6 L587.8 2562.0 L593.4 2560.4 L598.9 2558.8 L604.5 2557.3 L610.0 2555.7 L615.6 2554.2 L621.1 2552.7 L626.7 2551.1 L632.2 2549.5 L637.8 2547.9 L643.3 2546.2 L648.9 2544.5 L654.4 2542.6 L660.0 2540.7 L665.5 2538.7 L671.1 2536.7 L676.6 2534.6 L682.1 2532.5 L687.7 2530.3 L693.2 2528.1 L698.8 2525.8 L704.3 2523.6 L709.9 2521.3 L715.4 2519.0 L721.0 2516.8 L726.5 2514.5 L732.1 2512.2 L737.6 2510.0 L743.2 2507.8 L748.7 2505.6 L754.3 2503.5 L759.8 2501.5 L765.4 2499.5 L770.9 2497.5 L776.5 2495.6 L782.0 2493.8 L787.6 2492.0 L793.1 2490.2 L798.7 2488.5 L804.2 2486.8 L809.8 2485.1 L815.3 2483.4 L820.8 2481.8 L826.4 2480.2 L831.9 2478.6 L837.5 2477.2 L843.0 2475.8 L848.6 2474.5 L854.1 2473.4 L859.7 2472.4 L865.2 2471.6 L870.8 2471.0 L876.3 2470.5 L881.9 2470.3 L887.4 2470.2 L893.0 2470.4 L898.5 2470.7 L904.1 2471.1 L909.6 2471.7 L915.2 2472.5 L920.7 2473.3 L926.3 2474.3 L931.8 2475.4 L937.4 2476.6 L942.9 2477.9 L948.5 2479.3 L954.0 2480.8 L959.5 2482.3 L965.1 2484.0 L970.6 2485.7 L976.2 2487.6 L981.7 2489.4 L987.3 2491.4 L992.8 2493.4 L998.4 2495.5 L1003.9 2497.6 L1009.5 2499.8 L1015.0 2502.1 L1020.6 2504.3 L1026.1 2506.6 L1031.7 2508.9 L1037.2 2511.3 L1042.8 2513.7 L1048.3 2516.0 L1053.9 2518.5 L1059.4 2520.9 L1065.0 2523.4 L1070.5 2525.9 L1076.1 2528.5 L1081.6 2531.2 L1087.2 2534.0 L1092.7 2536.8 L1098.2 2539.7 L1103.8 2542.6 L1109.3 2545.7 L1114.9 2548.8 L1120.4 2552.0 L1126.0 2555.2 L1131.5 2558.5 L1137.1 2561.9 L1142.6 2565.2 L1148.2 2568.6 L1153.7 2572.0 L1159.3 2575.5 L1164.8 2578.9 L1170.4 2582.4 L1175.9 2585.9 L1181.5 2589.3 L1187.0 2592.8 L1192.6 2596.2 L1198.1 2599.7 L1203.7 2603.1 L1209.2 2606.5 L1214.8 2609.9 L1220.3 2613.2 L1225.9 2616.5 L1231.4 2619.7 L1236.9 2622.8 L1242.5 2625.8 L1248.0 2628.8 L1253.6 2631.6 L1259.1 2634.3 L1264.7 2636.9 L1270.2 2639.4 L1275.8 2641.8 L1281.3 2644.0 L1286.9 2646.1 L1292.4 2648.0 L1298.0 2649.8 L1303.5 2651.5 L1309.1 2653.0 L1314.6 2654.4 L1320.2 2655.7 L1325.7 2656.8 L1331.3 2657.8 L1336.8 2658.7 L1342.4 2659.5 L1347.9 2660.2 L1353.5 2660.9 L1359.0 2661.4 L1364.6 2662.0 L1370.1 2662.5 L1375.6 2662.9 L1381.2 2663.4 L1386.7 2663.8 L1392.3 2664.2 L1397.8 2664.6 L1403.4 2664.9 L1408.9 2665.3 L1414.5 2665.7 L1420.0 2666.0 L1425.6 2666.4 L1431.1 2666.7 L1436.7 2667.1 L1442.2 2667.4 L1447.8 2667.8 L1453.3 2668.1 L1458.9 2668.4 L1464.4 2668.8 L1470.0 2669.1 L1475.5 2669.4 L1481.1 2669.6 L1486.6 2669.9 L1492.2 2670.1 L1497.7 2670.4 L1503.3 2670.6 L1508.8 2670.9 L1514.3 2671.1 L1519.9 2671.3 L1525.4 2671.5 L1531.0 2671.7 L1536.5 2671.8 L1542.1 2672.0 L1547.6 2672.2 L1553.2 2672.3 L1558.7 2672.5 L1564.3 2672.6 L1569.8 2672.8 L1575.4 2672.9 L1580.9 2673.1 L1586.5 2673.2 L1592.0 2673.3 L1597.6 2673.5 L1603.1 2673.6 L1608.7 2673.7 L1614.2 2673.8 L1619.8 2673.9 L1625.3 2674.1 L1630.9 2674.2 L1636.4 2674.3 L1642.0 2674.4 L1647.5 2674.5 L1653.0 2674.6 L1658.6 2674.7 L1664.1 2674.8 L1669.7 2674.9 L1675.2 2675.0 L1680.8 2675.1 L1686.3 2675.2 L1691.9 2675.3 L1697.4 2675.4 L1703.0 2675.5 L1708.5 2675.6 L1714.1 2675.7 L1719.6 2675.7 L1725.2 2675.8 L1730.7 2675.9 L1736.3 2676.0 L1741.8 2676.1 L1747.4 2676.1 L1752.9 2676.2 L1758.5 2676.3" stroke="#ff00ff"/>
<path d="M260.5 2586.7 L266.0 2587.3 L271.6 2587.9 L277.1 2588.5 L282.7 2589.1 L288.2 2589.7 L293.8 2590.3 L299.3 2590.8 L304.9 2591.3 L310.4 2591.8 L316.0 2592.2 L321.5 2592.6 L327.1 2593.0 L332.6 2593.3 L338.2 2593.6 L343.7 2593.9 L349.3 2594.1 L354.8 2594.4 L360.4 2594.7 L365.9 2594.9 L371.5 2595.2 L377.0 2595.6 L382.6 2595.9 L388.1 2596.3 L393.7 2596.7 L399.2 2597.0 L404.7 2597.4 L410.3 2597.8 L415.8 2598.2 L421.4 2598.5 L426.9 2598.9 L432.5 2599.2 L438.0 2599.5 L443.6 2599.7 L449.1 2600.0 L454.7 2600.2 L460.2 2600.4 L465.8 2600.5 L471.3 2600.7 L476.9 2600.7 L482.4 2600.8 L488.0 2600.8 L493.5 2600.8 L499.1 2600.8 L504.6 2600.7 L510.2 2600.6 L515.7 2600.4 L521.3 2600.2 L526.8 2599.9 L532.4 2599.6 L537.9 2599.2 L543.4 2598.8 L549.0 2598.3 L554.5 2597.7 L560.1 2597.1 L565.6 2596.5 L571.2 2595.8 L576.7 2595.0 L582.3 2594.2 L587.8 2593.4 L593.4 2592.6 L598.9 2591.7 L604.5 2590.8 L610.0 2589.9 L615.6 2588.9 L621.1 2587.9 L626.7 2586.9 L632.2 2585.8 L637.8 2584.7 L643.3 2583.6 L648.9 2582.4 L654.4 2581.2 L660.0 2580.0 L665.5 2578.7 L671.1 2577.4 L676.6 2576.1 L682.1 2574.8 L687.7 2573.5 L693.2 2572.1 L698.8 2570.8 L704.3 2569.5 L709.9 2568.2 L715.4 2566.9 L721.0 2565.6 L726.5 2564.3 L732.1 2563.0 L737.6 2561.8 L743.2 2560.5 L748.7 2559.2 L754.3 2557.9 L759.8 2556.7 L765.4 2555.4 L770.9 2554.1 L776.5 2552.9 L782.0 2551.6 L787.6 2550.4 L793.1 2549.3 L798.7 2548.1 L804.2 2547.1 L809.8 2546.1 L815.3 2545.2 L820.8 2544.3 L826.4 2543.6 L831.9 2542.9 L837.5 2542.2 L843.0 2541.6 L848.6 2541.1 L854.1 2540.6 L859.7 2540.1 L865.2 2539.7 L870.8 2539.2 L876.3 2538.8 L881.9 2538.5 L887.4 2538.3 L893.0 2538.2 L898.5 2538.4 L904.1 2538.7 L909.6 2539.1 L915.2 2539.6 L920.7 2540.2 L926.3 2540.8 L931.8 2541.5 L937.4 2542.3 L942.9 2543.1 L948.5 2544.0 L954.0 2544.9 L959.5 2545.9 L965.1 2546.9 L970.6 2548.1 L976.2 2549.3 L981.7 2550.7 L987.3 2552.1 L992.8 2553.6 L998.4 2555.2 L1003.9 2556.8 L1009.5 2558.5 L1015.0 2560.2 L1020.6 2561.9 L1026.1 2563.7 L1031.7 2565.4 L1037.2 2567.1 L1042.8 2568.8 L1048.3 2570.4 L1053.9 2572.0 L1059.4 2573.6 L1065.0 2575.2 L1070.5 2576.8 L1076.1 2578.5 L1081.6 2580.1 L1087.2 2581.8 L1092.7 2583.5 L1098.2 2585.2 L1103.8 2587.0 L1109.3 2588.9 L1114.9 2590.7 L1120.4 2592.7 L1126.0 2594.7 L1131.5 2596.7 L1137.1 2598.8 L1142.6 2600.9 L1148.2 2603.1 L1153.7 2605.3 L1159.3 2607.6 L1164.8 2609.9 L1170.4 2612.3 L1175.9 2614.6 L1181.5 2617.0 L1187.0 2619.3 L1192.6 2621.6 L1198.1 2623.9 L1203.7 2626.1 L1209.2 2628.3 L1214.8 2630.4 L1220.3 2632.5 L1225.9 2634.6 L1231.4 2636.6 L1236.9 2638.5 L1242.5 2640.4 L1248.0 2642.3 L1253.6 2644.1 L1259.1 2645.8 L1264.7 2647.6 L1270.2 2649.2 L1275.8 2650.9 L1281.3 2652.4 L1286.9 2653.9 L1292.4 2655.3 L1298.0 2656.6 L1303.5 2657.8 L1309.1 2658.9 L1314.6 2659.9 L1320.2 2660.8 L1325.7 2661.5 L1331.3 2662.2 L1336.8 2662.8 L1342.4 2663.3 L1347.9 2663.7 L1353.5 2664.1 L1359.0 2664.5 L1364.6 2664.9 L1370.1 2665.2 L1375.6 2665.6 L1381.2 2665.9 L1386.7 2666.3 L1392.3 2666.7 L1397.8 2667.0 L1403.4 2667.4 L1408.9 2667.7 L1414.5 2668.1 L1420.0 2668.4 L1425.6 2668.7 L1431.1 2668.9 L1436.7 2669.1 L1442.2 2669.3 L1447.8 2669.5 L1453.3 2669.7 L1458.9 2669.9 L1464.4 2670.0 L1470.0 2670.2 L1475.5 2670.4 L1481.1 2670.5 L1486.6 2670.7 L1492.2 2670.8 L1497.7 2670.9 L1503.3 2671.1 L1508.8 2671.2 L1514.3 2671.3 L1519.9 2671.5 L1525.4 2671.6 L1531.0 2671.7 L1536.5 2671.8 L1542.1 2672.0 L1547.6 2672.1 L1553.2 2672.3 L1558.7 2672.4 L1564.3 2672.5 L1569.8 2672.7 L1575.4 2672.8 L1580.9 2673.0 L1586.5 2673.1 L1592.0 2673.2 L1597.6 2673.4 L1603.1 2673.5 L1608.7 2673.6 L1614.2 2673.8 L1619.8 2673.9 L1625.3 2674.0 L1630.9 2674.2 L1636.4 2674.3 L1642.0 2674.4 L1647.5 2674.5 L1653.0 2674.6 L1658.6 2674.7 L1664.1 2674.8 L1669.7 2674.9 L1675.2 2675.0 L1680.8 2675.1 L1686.3 2675.2 L1691.9 2675.3 L1697.4 2675.4 L1703.0 2675.5 L1708.5 2675.6 L1714.1 2675.7 L1719.6 2675.7 L1725.2 2675.8 L1730.7 2675.9 L1736.3 2676.0 L1741.8 2676.1 L1747.4 2676.1 L1752.9 2676.2 L1758.5 2676.3" stroke="#008000"/>
<path d="M260.5 2618.6 L266.0 2619.1 L271.6 2619.5 L277.1 2620.0 L282.7 2620.4 L288.2 2620.9 L293.8 2621.3 L299.3 2621.7 L304.9 2622.1 L310.4 2622.5 L316.0 2622.8 L321.5 2623.2 L327.1 2623.5 L332.6 2623.7 L338.2 2624.0 L343.7 2624.3 L349.3 2624.5 L354.8 2624.8 L360.4 2625.0 L365.9 2625.2 L371.5 2625.5 L377.0 2625.8 L382.6 2626.0 L388.1 2626.3 L393.7 2626.6 L399.2 2626.9 L404.7 2627.2 L410.3 2627.5 L415.8 2627.8 L421.4 2628.1 L426.9 2628.4 L432.5 2628.7 L438.0 2629.0 L443.6 2629.3 L449.1 2629.6 L454.7 2629.9 L460.2 2630.1 L465.8 2630.4 L471.3 2630.6 L476.9 2630.9 L482.4 2631.1 L488.0 2631.2 L493.5 2631.4 L499.1 2631.5 L504.6 2631.6 L510.2 2631.7 L515.7 2631.8 L521.3 2631.8 L526.8 2631.8 L532.4 2631.7 L537.9 2631.6 L543.4 2631.5 L549.0 2631.3 L554.5 2631.1 L560.1 2630.8 L565.6 2630.6 L571.2 2630.3 L576.7 2630.0 L582.3 2629.7 L587.8 2629.4 L593.4 2629.0 L598.9 2628.7 L604.5 2628.4 L610.0 2628.1 L615.6 2627.7 L621.1 2627.4 L626.7 2627.0 L632.2 2626.6 L637.8 2626.2 L643.3 2625.8 L648.9 2625.4 L654.4 2624.9 L660.0 2624.5 L665.5 2624.0 L671.1 2623.5 L676.6 2622.9 L682.1 2622.4 L687.7 2621.9 L693.2 2621.3 L698.8 2620.8 L704.3 2620.3 L709.9 2619.8 L715.4 2619.3 L721.0 2618.8 L726.5 2618.3 L732.1 2617.8 L737.6 2617.3 L743.2 2616.8 L748.7 2616.3 L754.3 2615.8 L759.8 2615.3 L765.4 2614.8 L770.9 2614.3 L776.5 2613.8 L782.0 2613.3 L787.6 2612.8 L793.1 2612.3 L798.7 2611.9 L804.2 2611.4 L809.8 2611.0 L815.3 2610.5 L820.8 2610.1 L826.4 2609.8 L831.9 2609.4 L837.5 2609.1 L843.0 2608.8 L848.6 2608.6 L854.1 2608.3 L859.7 2608.1 L865.2 2607.9 L870.8 2607.8 L876.3 2607.7 L881.9 2607.6 L887.4 2607.6 L893.0 2607.7 L898.5 2607.8 L904.1 2608.0 L909.6 2608.3 L915.2 2608.7 L920.7 2609.1 L926.3 2609.5 L931.8 2609.9 L937.4 2610.2 L942.9 2610.6 L948.5 2611.0 L954.0 2611.4 L959.5 2611.8 L965.1 2612.3 L970.6 2612.8 L976.2 2613.3 L981.7 2613.9 L987.3 2614.6 L992.8 2615.3 L998.4 2616.0 L1003.9 2616.8 L1009.5 2617.6 L1015.0 2618.4 L1020.6 2619.3 L1026.1 2620.1 L1031.7 2620.9 L1037.2 2621.8 L1042.8 2622.6 L1048.3 2623.4 L1053.9 2624.2 L1059.4 2625.0 L1065.0 2625.8 L1070.5 2626.6 L1076.1 2627.4 L1081.6 2628.2 L1087.2 2629.1 L1092.7 2630.0 L1098.2 2631.0 L1103.8 2631.9 L1109.3 2633.0 L1114.9 2634.0 L1120.4 2635.1 L1126.0 2636.2 L1131.5 2637.4 L1137.1 2638.5 L1142.6 2639.7 L1148.2 2640.9 L1153.7 2642.1 L1159.3 2643.3 L1164.8 2644.5 L1170.4 2645.7 L1175.9 2646.9 L1181.5 2648.0 L1187.0 2649.2 L1192.6 2650.3 L1198.1 2651.4 L1203.7 2652.4 L1209.2 2653.4 L1214.8 2654.3 L1220.3 2655.2 L1225.9 2656.1 L1231.4 2656.9 L1236.9 2657.7 L1242.5 2658.4 L1248.0 2659.2 L1253.6 2659.9 L1259.1 2660.6 L1264.7 2661.3 L1270.2 2662.0 L1275.8 2662.6 L1281.3 2663.3 L1286.9 2663.9 L1292.4 2664.5 L1298.0 2665.0 L1303.5 2665.5 L1309.1 2666.0 L1314.6 2666.4 L1320.2 2666.7 L1325.7 2667.0 L1331.3 2667.3 L1336.8 2667.5 L1342.4 2667.7 L1347.9 2667.9 L1353.5 2668.0 L1359.0 2668.2 L1364.6 2668.3 L1370.1 2668.5 L1375.6 2668.6 L1381.2 2668.8 L1386.7 2669.0 L1392.3 2669.1 L1397.8 2669.3 L1403.4 2669.5 L1408.9 2669.6 L1414.5 2669.8 L1420.0 2669.9 L1425.6 2670.1 L1431.1 2670.2 L1436.7 2670.3 L1442.2 2670.4 L1447.8 2670.6 L1453.3 2670.7 L1458.9 2670.8 L1464.4 2670.9 L1470.0 2671.0 L1475.5 2671.1 L1481.1 2671.1 L1486.6 2671.2 L1492.2 2671.3 L1497.7 2671.4 L1503.3 2671.4 L1508.8 2671.5 L1514.3 2671.6 L1519.9 2671.6 L1525.4 2671.7 L1531.0 2671.8 L1536.5 2671.8 L1542.1 2671.9 L1547.6 2672.1 L1553.2 2672.2 L1558.7 2672.3 L1564.3 2672.4 L1569.8 2672.6 L1575.4 2672.8 L1580.9 2672.9 L1586.5 2673.1 L1592.0 2673.2 L1597.6 2673.4 L1603.1 2673.5 L1608.7 2673.7 L1614.2 2673.8 L1619.8 2674.0 L1625.3 2674.1 L1630.9 2674.2 L1636.4 2674.3 L1642.0 2674.4 L1647.5 2674.5 L1653.0 2674.6 L1658.6 2674.6 L1664.1 2674.7 L1669.7 2674.8 L1675.2 2674.8 L1680.8 2674.9 L1686.3 2674.9 L1691.9 2675.0 L1697.4 2675.1 L1703.0 2675.1 L1708.5 2675.2 L1714.1 2675.2 L1719.6 2675.2 L1725.2 2675.3 L1730.7 2675.3 L1736.3 2675.3 L1741.8 2675.4 L1747.4 2675.4 L1752.9 2675.4 L1758.5 2675.4" stroke="#800000"/>
<path d="M260.5 2634.3 L266.0 2634.8 L271.6 2635.3 L277.1 2635.8 L282.7 2636.2 L288.2 2636.7 L293.8 2637.1 L299.3 2637.5 L304.9 2637.9 L310.4 2638.3 L316.0 2638.6 L321.5 2638.9 L327.1 2639.2 L332.6 2639.4 L338.2 2639.7 L343.7 2639.9 L349.3 2640.1 L354.8 2640.3 L360.4 2640.5 L365.9 2640.7 L371.5 2640.9 L377.0 2641.1 L382.6 2641.3 L388.1 2641.6 L393.7 2641.8 L399.2 2642.0 L404.7 2642.3 L410.3 2642.5 L415.8 2642.7 L421.4 2643.0 L426.9 2643.2 L432.5 2643.4 L438.0 2643.6 L443.6 2643.8 L449.1 2644.0 L454.7 2644.2 L460.2 2644.3 L465.8 2644.5 L471.3 2644.7 L476.9 2644.8 L482.4 2645.0 L488.0 2645.1 L493.5 2645.2 L499.1 2645.3 L504.6 2645.4 L510.2 2645.5 L515.7 2645.6 L521.3 2645.7 L526.8 2645.8 L532.4 2645.8 L537.9 2645.8 L543.4 2645.8 L549.0 2645.8 L554.5 2645.8 L560.1 2645.8 L565.6 2645.7 L571.2 2645.7 L576.7 2645.6 L582.3 2645.5 L587.8 2645.4 L593.4 2645.3 L598.9 2645.2 L604.5 2645.1 L610.0 2644.9 L615.6 2644.8 L621.1 2644.6 L626.7 2644.5 L632.2 2644.3 L637.8 2644.1 L643.3 2643.9 L648.9 2643.7 L654.4 2643.5 L660.0 2643.3 L665.5 2643.0 L671.1 2642.8 L676.6 2642.5 L682.1 2642.3 L687.7 2642.0 L693.2 2641.8 L698.8 2641.5 L704.3 2641.2 L709.9 2641.0 L715.4 2640.7 L721.0 2640.4 L726.5 2640.2 L732.1 2639.9 L737.6 2639.6 L743.2 2639.4 L748.7 2639.1 L754.3 2638.8 L759.8 2638.6 L765.4 2638.3 L770.9 2638.1 L776.5 2637.8 L782.0 2637.6 L787.6 2637.3 L793.1 2637.1 L798.7 2636.9 L804.2 2636.6 L809.8 2636.4 L815.3 2636.2 L820.8 2636.0 L826.4 2635.8 L831.9 2635.6 L837.5 2635.4 L843.0 2635.3 L848.6 2635.1 L854.1 2635.0 L859.7 2634.8 L865.2 2634.7 L870.8 2634.6 L876.3 2634.5 L881.9 2634.5 L887.4 2634.4 L893.0 2634.4 L898.5 2634.5 L904.1 2634.6 L909.6 2634.8 L915.2 2635.0 L920.7 2635.2 L926.3 2635.5 L931.8 2635.7 L937.4 2636.0 L942.9 2636.2 L948.5 2636.5 L954.0 2636.7 L959.5 2637.0 L965.1 2637.3 L970.6 2637.6 L976.2 2638.0 L981.7 2638.3 L987.3 2638.7 L992.8 2639.1 L998.4 2639.5 L1003.9 2640.0 L1009.5 2640.4 L1015.0 2640.9 L1020.6 2641.3 L1026.1 2641.8 L1031.7 2642.3 L1037.2 2642.7 L1042.8 2643.2 L1048.3 2643.7 L1053.9 2644.1 L1059.4 2644.6 L1065.0 2645.1 L1070.5 2645.6 L1076.1 2646.1 L1081.6 2646.6 L1087.2 2647.2 L1092.7 2647.8 L1098.2 2648.4 L1103.8 2649.1 L1109.3 2649.8 L1114.9 2650.5 L1120.4 2651.2 L1126.0 2651.9 L1131.5 2652.6 L1137.1 2653.3 L1142.6 2654.0 L1148.2 2654.7 L1153.7 2655.3 L1159.3 2656.0 L1164.8 2656.6 L1170.4 2657.2 L1175.9 2657.8 L1181.5 2658.3 L1187.0 2658.9 L1192.6 2659.5 L1198.1 2660.0 L1203.7 2660.6 L1209.2 2661.2 L1214.8 2661.8 L1220.3 2662.4 L1225.9 2662.9 L1231.4 2663.5 L1236.9 2664.1 L1242.5 2664.6 L1248.0 2665.2 L1253.6 2665.7 L1259.1 2666.2 L1264.7 2666.7 L1270.2 2667.1 L1275.8 2667.5 L1281.3 2667.9 L1286.9 2668.3 L1292.4 2668.6 L1298.0 2668.9 L1303.5 2669.2 L1309.1 2669.5 L1314.6 2669.7 L1320.2 2669.9 L1325.7 2670.2 L1331.3 2670.3 L1336.8 2670.5 L1342.4 2670.7 L1347.9 2670.8 L1353.5 2671.0 L1359.0 2671.1 L1364.6 2671.2 L1370.1 2671.3 L1375.6 2671.4 L1381.2 2671.5 L1386.7 2671.6 L1392.3 2671.7 L1397.8 2671.8 L1403.4 2671.9 L1408.9 2672.0 L1414.5 2672.1 L1420.0 2672.2 L1425.6 2672.3 L1431.1 2672.4 L1436.7 2672.4 L1442.2 2672.5 L1447.8 2672.6 L1453.3 2672.7 L1458.9 2672.7 L1464.4 2672.8 L1470.0 2672.9 L1475.5 2672.9 L1481.1 2673.0 L1486.6 2673.1 L1492.2 2673.1 L1497.7 2673.2 L1503.3 2673.3 L1508.8 2673.3 L1514.3 2673.4 L1519.9 2673.4 L1525.4 2673.5 L1531.0 2673.6 L1536.5 2673.6 L1542.1 2673.7 L1547.6 2673.7 L1553.2 2673.8 L1558.7 2673.8 L1564.3 2673.9 L1569.8 2673.9 L1575.4 2674.0 L1580.9 2674.0 L1586.5 2674.1 L1592.0 2674.1 L1597.6 2674.2 L1603.1 2674.2 L1608.7 2674.3 L1614.2 2674.3 L1619.8 2674.4 L1625.3 2674.4 L1630.9 2674.4 L1636.4 2674.5 L1642.0 2674.5 L1647.5 2674.5 L1653.0 2674.5 L1658.6 2674.5 L1664.1 2674.6 L1669.7 2674.6 L1675.2 2674.6 L1680.8 2674.6 L1686.3 2674.6 L1691.9 2674.7 L1697.4 2674.7 L1703.0 2674.7 L1708.5 2674.7 L1714.1 2674.7 L1719.6 2674.7 L1725.2 2674.7 L1730.7 2674.7 L1736.3 2674.8 L1741.8 2674.8 L1747.4 2674.8 L1752.9 2674.8 L1758.5 2674.8" stroke="#ff8000"/>
</g>
<path d="M1317 1726.1 H1461" stroke="#000000" stroke-width="6.5"/>
<path d="M1317 1809.4 H1461" stroke="#ff0000" stroke-width="6.5"/>
<path d="M1317 1893.1 H1461" stroke="#0000ff" stroke-width="6.5"/>
<path d="M1317 1976.8 H1461" stroke="#ff00ff" stroke-width="6.5"/>
<path d="M1317 2060.9 H1461" stroke="#008000" stroke-width="6.5"/>
<path d="M1317 2144.9 H1461" stroke="#800000" stroke-width="6.5"/>
<path d="M1317 2228.4 H1461" stroke="#ff8000" stroke-width="6.5"/>
<g font-family="'Liberation Sans', Arial, sans-serif" fill="#000">
<text transform="matrix(0.5913,0,0,0.5507,173.27,90.20)" font-size="100">1.0</text>
<text transform="matrix(0.6053,0,0,0.5507,171.38,313.26)" font-size="100">0.8</text>
<text transform="matrix(0.6053,0,0,0.5507,171.38,536.32)" font-size="100">0.6</text>
<text transform="matrix(0.6008,0,0,0.5507,171.40,759.38)" font-size="100">0.4</text>
<text transform="matrix(0.6100,0,0,0.5507,171.36,982.44)" font-size="100">0.2</text>
<text transform="matrix(0.6053,0,0,0.5507,171.38,1205.50)" font-size="100">0.0</text>
<text transform="matrix(0.6083,0,0,0.5423,275.77,1276.26)" font-size="100">0</text>
<text transform="matrix(0.6149,0,0,0.5500,512.94,1276.25)" font-size="100">5</text>
<text transform="matrix(0.5970,0,0,0.5423,735.42,1276.26)" font-size="100">10</text>
<text transform="matrix(0.5495,0,0,0.5500,973.80,1276.25)" font-size="100">15</text>
<text transform="matrix(0.5843,0,0,0.5423,1204.18,1276.26)" font-size="100">20</text>
<text transform="matrix(0.6010,0,0,0.5423,1441.80,1276.26)" font-size="100">25</text>
<text transform="matrix(0.6039,0,0,0.5423,1678.58,1276.26)" font-size="100">30</text>
<text transform="matrix(0.9265,0,0,0.8521,469.27,941.35)" font-size="100">6A</text>
<text transform="matrix(0.7118,0,0,0.6596,733.79,1392.15)" font-size="100">Irradiation time (min)</text>
<text transform="matrix(0.7465,0,0,0.6418,99.25,723.75) rotate(-90)" font-size="100" font-style="italic">C</text>
<text transform="matrix(0.7000,0,0,0.6821,99.00,655.00) rotate(-90)" font-size="100">/</text>
<text transform="matrix(0.7465,0,0,0.6388,99.25,610.73) rotate(-90)" font-size="100" font-style="italic">C</text>
<text transform="matrix(0.4211,0,0,0.3771,126.58,560.41) rotate(-90)" font-size="100">0</text>
<text transform="matrix(0.6182,0,0,0.5309,1739.89,123.05)" font-size="100">(a)</text>
<text transform="matrix(0.5982,0,0,0.5309,1738.71,559.35)" font-size="100">(b)</text>
<text transform="matrix(0.6183,0,0,0.5309,1741.59,771.25)" font-size="100">(c)</text>
<text transform="matrix(0.6036,0,0,0.5309,1738.08,855.85)" font-size="100">(d)</text>
<text transform="matrix(0.5982,0,0,0.5309,1742.61,928.10)" font-size="100">(e)</text>
<text transform="matrix(0.6013,0,0,0.5309,1750.69,985.95)" font-size="100">(i)</text>
<text transform="matrix(0.6012,0,0,0.5309,1752.19,1049.45)" font-size="100">(f)</text>
<text transform="matrix(0.5973,0,0,0.5309,1744.72,1114.00)" font-size="100">(h)</text>
<text transform="matrix(0.5973,0,0,0.5309,1744.72,1173.30)" font-size="100">(g)</text>
<text transform="matrix(0.6462,0,0,0.6027,1478.72,1749.00)" font-size="100">0 min</text>
<text transform="matrix(0.6436,0,0,0.6027,1479.33,1833.10)" font-size="100">5 min</text>
<text transform="matrix(0.6357,0,0,0.6027,1481.01,1916.90)" font-size="100">10 min</text>
<text transform="matrix(0.6357,0,0,0.6027,1481.01,2001.15)" font-size="100">15 min</text>
<text transform="matrix(0.6457,0,0,0.6027,1478.07,2084.70)" font-size="100">20 min</text>
<text transform="matrix(0.6457,0,0,0.6027,1478.07,2168.70)" font-size="100">25 min</text>
<text transform="matrix(0.6414,0,0,0.6027,1479.33,2252.65)" font-size="100">30 min</text>
<text transform="matrix(0.5897,0,0,0.5743,142.08,1630.00)" font-size="100">1.2</text>
<text transform="matrix(0.5946,0,0,0.5662,141.42,1894.43)" font-size="100">0.9</text>
<text transform="matrix(0.5901,0,0,0.5662,141.44,2160.03)" font-size="100">0.6</text>
<text transform="matrix(0.5901,0,0,0.5662,141.44,2425.53)" font-size="100">0.3</text>
<text transform="matrix(0.5901,0,0,0.5662,141.44,2691.53)" font-size="100">0.0</text>
<text transform="matrix(0.5950,0,0,0.5577,320.61,2780.34)" font-size="100">450</text>
<text transform="matrix(0.5868,0,0,0.5577,599.45,2780.34)" font-size="100">500</text>
<text transform="matrix(0.5843,0,0,0.5577,876.86,2780.34)" font-size="100">550</text>
<text transform="matrix(0.6006,0,0,0.5577,1152.00,2780.34)" font-size="100">600</text>
<text transform="matrix(0.5905,0,0,0.5577,1430.45,2780.34)" font-size="100">650</text>
<text transform="matrix(0.5880,0,0,0.5577,1708.66,2780.34)" font-size="100">700</text>
<text transform="matrix(0.9241,0,0,0.8789,399.88,1770.42)" font-size="100">6B</text>
<text transform="matrix(0.7033,0,0,0.6755,744.10,2896.81)" font-size="100">Wavelength (nm)</text>
<text transform="matrix(0.6883,0,0,0.6671,62.75,2404.40) rotate(-90)" font-size="100">Absorbance (a.u.)</text>
</g>
</svg>
</body></html>
